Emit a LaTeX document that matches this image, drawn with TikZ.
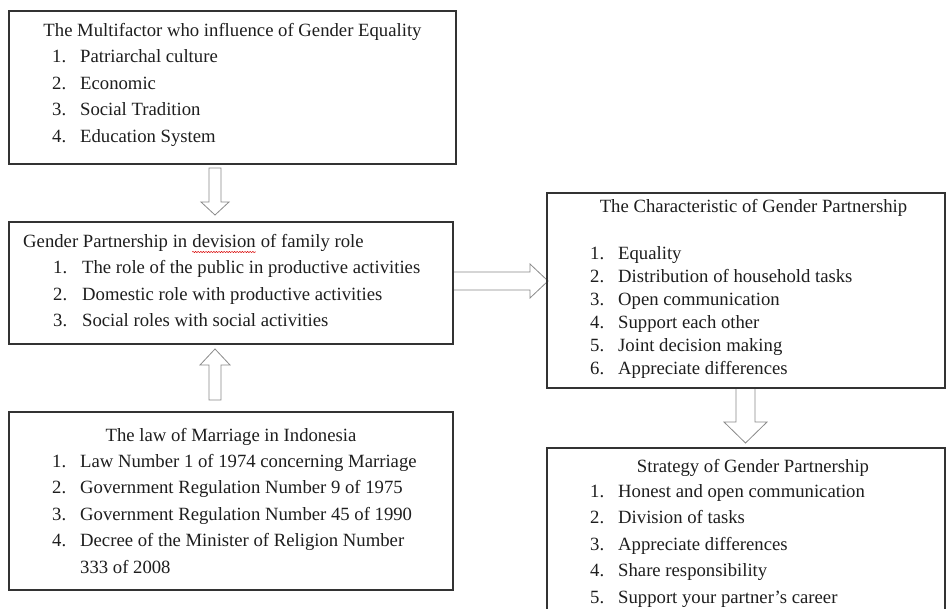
\documentclass[tikz,border=0pt]{standalone}
\usepackage{fontspec}
\setmainfont{Liberation Serif}
\usetikzlibrary{calc,decorations.pathmorphing}
\definecolor{boxgray}{HTML}{333333}
\definecolor{arrgray}{HTML}{8A8A8A}
\definecolor{txtcol}{HTML}{1E1E1E}
\tikzset{
  box/.style={draw=boxgray, line width=1.3pt, anchor=north west, inner sep=0pt, outer sep=0pt},
  ttl/.style={inner sep=0pt, anchor=base, text=txtcol, font=\fontsize{18.7}{26.5}\selectfont},
  ttlw/.style={inner sep=0pt, anchor=base west, text=txtcol, font=\fontsize{18.7}{26.5}\selectfont},
  lst/.style={inner sep=0pt, anchor=base west, text=txtcol, font=\fontsize{18.7}{26.5}\selectfont, align=left},
  lstt/.style={lst, font=\fontsize{18.7}{23}\selectfont},
  blk/.style={draw=arrgray, line width=0.8pt, fill=white, line join=miter},
  spell/.style={draw=red!85!black, line width=0.5pt, decorate, decoration={snake, amplitude=0.6pt, segment length=2.6pt}}
}
\begin{document}
\begin{tikzpicture}[x=1pt,y=-1pt]
\useasboundingbox (0,0) rectangle (947,609);
\clip (0,0) rectangle (947,609);
\fill[white] (0,0) rectangle (947,609);

% boxes
\node[box, minimum width=447pt, minimum height=153pt] (b1) at (9,11) {};
\node[box, minimum width=444pt, minimum height=122pt] (b2) at (9,222) {};
\node[box, minimum width=444pt, minimum height=178pt] (b3) at (9,412) {};
\node[box, minimum width=398pt, minimum height=195pt] (r1) at (547,193) {};
\node[box, minimum width=398pt, minimum height=200pt] (r2) at (547,448) {};

% block arrows
\draw[blk] (b1.south west) ++(200,4) -- ++(12,0) -- ++(0,34) -- ++(8,0) -- ++(-14,13) -- ++(-14,-13) -- ++(8,0) -- cycle;
\draw[blk] (b3.north west) ++(200,-12) -- ++(12,0) -- ++(0,-35) -- ++(9,0) -- ++(-15,-16) -- ++(-15,16) -- ++(9,0) -- cycle;
\draw[blk] (b2.north east) ++(0,50) -- ++(77,0) -- ++(0,-8) -- ++(18,17) -- ++(-18,17) -- ++(0,-8) -- ++(-77,0);
\draw[blk] (r1.south west) ++(189,0) -- ++(19,0) -- ++(0,34) -- ++(12,0) -- ++(-21.5,21) -- ++(-21.5,-21) -- ++(12,0) -- cycle;

% redraw box borders over arrow ends
\draw[boxgray, line width=1.3pt] (b2.north east) -- (b2.south east);
\draw[boxgray, line width=1.3pt] (r1.north west) -- (r1.south west);
\draw[boxgray, line width=1.3pt] (r1.south west) -- (r1.south east);

% box 1
\node[ttl] (t1) at (232.5,37) {The Multifactor who influence of Gender Equality};
\node[lst] (l1) at (52,63) {\begin{tabular}[t]{@{}p{28pt}@{}l@{}}
1. & Patriarchal culture\\
2. & Economic\\
3. & Social Tradition\\
4. & Education System
\end{tabular}};

% box 2
\node[ttlw] (t2a) at (23,248) {Gender Partnership in};
\node[ttlw] (t2b) at ($(t2a.base east)+(4.7,0)$) {devision};
\node[ttlw] (t2c) at ($(t2b.base east)+(4.7,0)$) {of family role};
\draw[spell] ($(t2b.base west)+(0,4)$) -- ($(t2b.base east)+(0,4)$);
\node[lst] (l2) at (53,274) {\begin{tabular}[t]{@{}p{29pt}@{}l@{}}
1. & The role of the public in productive activities\\
2. & Domestic role with productive activities\\
3. & Social roles with social activities
\end{tabular}};

% box 3
\node[ttl] (t3) at (231,441) {The law of Marriage in Indonesia};
\node[lst] (l3) at (52,467) {\begin{tabular}[t]{@{}p{28pt}@{}l@{}}
1. & Law Number 1 of 1974 concerning Marriage\\
2. & Government Regulation Number 9 of 1975\\
3. & Government Regulation Number 45 of 1990\\
4. & Decree of the Minister of Religion Number\\
   & 333 of 2008
\end{tabular}};

% right box 1
\node[ttl] (t4) at (753.5,213) {The Characteristic of Gender Partnership};
\node[lstt] (l4) at (590,260) {\begin{tabular}[t]{@{}p{28pt}@{}l@{}}
1. & Equality\\
2. & Distribution of household tasks\\
3. & Open communication\\
4. & Support each other\\
5. & Joint decision making\\
6. & Appreciate differences
\end{tabular}};

% right box 2
\node[ttl] (t5) at (753,472) {Strategy of Gender Partnership};
\node[lst] (l5) at (590,497) {\begin{tabular}[t]{@{}p{28pt}@{}l@{}}
1. & Honest and open communication\\
2. & Division of tasks\\
3. & Appreciate differences\\
4. & Share responsibility\\
5. & Support your partner’s career
\end{tabular}};
\end{tikzpicture}
\end{document}
